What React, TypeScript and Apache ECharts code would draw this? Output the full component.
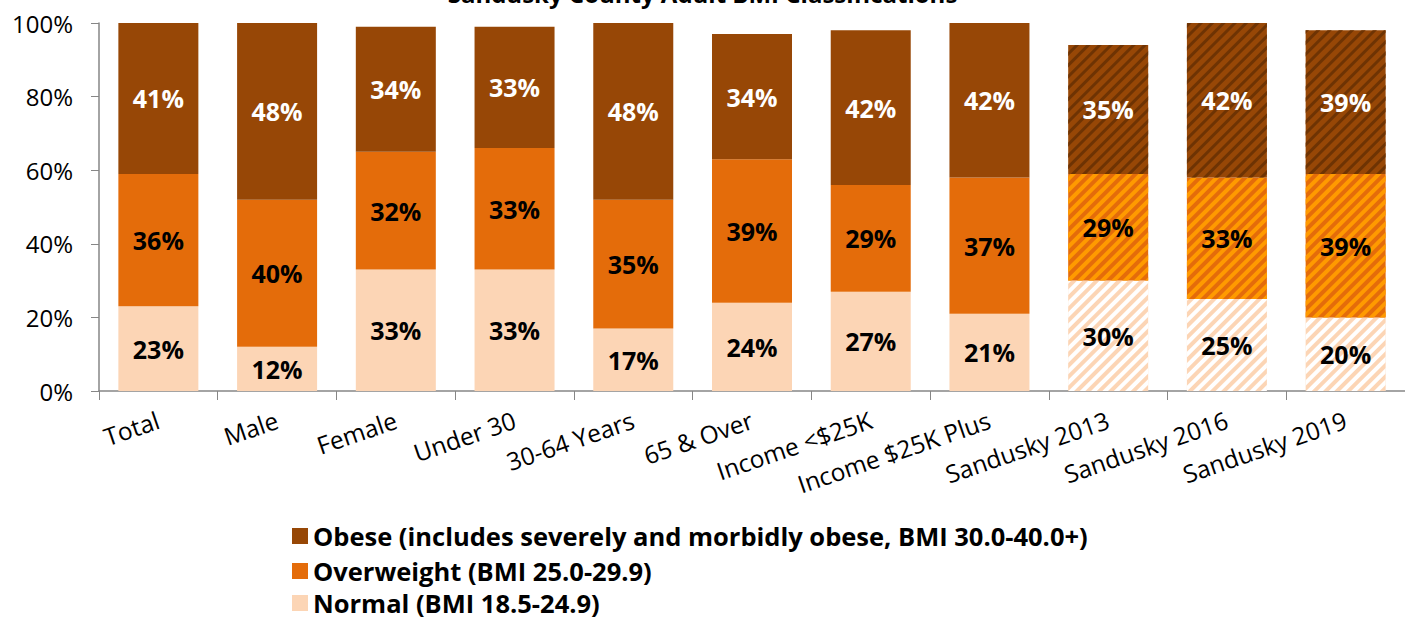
import React, { useEffect, useRef } from "react";
import * as echarts from "echarts";

const categories = [
  "Total", "Male", "Female", "Under 30", "30-64 Years", "65 & Over",
  "Income <$25K", "Income $25K Plus", "Sandusky 2013", "Sandusky 2016", "Sandusky 2019",
];
const normal = [23, 12, 33, 33, 17, 24, 27, 21, 30, 25, 20];
const overweight = [36, 40, 32, 33, 35, 39, 29, 37, 29, 33, 39];
const obese = [41, 48, 34, 33, 48, 34, 42, 42, 35, 42, 39];
const hatched = [false, false, false, false, false, false, false, false, true, true, true];
const yTicks = [0, 20, 40, 60, 80, 100];

const seriesNames = [
  "Normal (BMI 18.5-24.9)",
  "Overweight (BMI 25.0-29.9)",
  "Obese (includes severely and morbidly obese, BMI 30.0-40.0+)",
];
const colors = ["#FCD5B5", "#E46C0A", "#974706"];
const stripeColors = ["#FFFFFF", "#FF9A00", "#6E3303"];
const stripeDash = [[4, 4], [4, 4], [3, 5]];
const labelColors = ["#000000", "#000000", "#FFFFFF"];
const legendOrder = [2, 1, 0];
const legendTops = [518, 553, 585];

const FONT = "'Open Sans', 'Noto Sans', sans-serif";

export default function App() {
  const ref = useRef<HTMLDivElement>(null);
  useEffect(() => {
    document.body.style.margin = "0";
    const chart = echarts.init(ref.current!, null, { renderer: "svg" });
    const allValues = [normal, overweight, obese];
    const series = allValues.map((vals, si) => ({
      name: seriesNames[si],
      type: "bar",
      stack: "total",
      barWidth: 80,
      itemStyle: { color: colors[si] },
      label: {
        show: true,
        position: "inside",
        formatter: (p: any) => `${p.value}%`,
        color: labelColors[si],
        fontFamily: FONT,
        fontWeight: "bold",
        fontSize: 25,
      },
      data: vals.map((v, i) =>
        hatched[i]
          ? {
              value: v,
              itemStyle: {
                color: colors[si],
                decal: {
                  symbol: "rect",
                  symbolSize: 1,
                  color: stripeColors[si],
                  dashArrayX: [1, 0],
                  dashArrayY: stripeDash[si],
                  rotation: -Math.PI / 4,
                },
              },
            }
          : v
      ),
    }));
    chart.setOption({
      animation: false,
      aria: { enabled: false },
      grid: { left: 99, width: 1314, top: 23, bottom: 229, containLabel: false },
      graphic: [
        {
          type: "text",
          left: "center",
          top: -19,
          style: {
            text: "Sandusky County Adult BMI Classifications",
            font: `bold 24px ${FONT}`,
            fill: "#000",
          },
        },
      ],
      legend: legendOrder.map((si, k) => ({
        orient: "vertical",
        left: 287,
        top: legendTops[k],
        itemWidth: 16,
        itemHeight: 16,
        icon: "rect",
        data: [seriesNames[si]],
        textStyle: {
          fontFamily: FONT,
          fontWeight: "bold",
          fontSize: 25.5,
          lineHeight: 24,
          color: "#000",
        },
      })),
      xAxis: {
        type: "category",
        data: categories,
        axisLine: { lineStyle: { color: "#868686", width: 1.5 } },
        axisTick: { show: true, length: 9, lineStyle: { color: "#868686" } },
        axisLabel: {
          rotate: 19,
          interval: 0,
          margin: 28,
          color: "#000",
          fontFamily: FONT,
          fontSize: 24.5,
        },
      },
      yAxis: {
        type: "value",
        min: yTicks[0],
        max: yTicks[yTicks.length - 1],
        interval: 20,
        splitLine: { show: false },
        axisLine: { show: true, lineStyle: { color: "#868686", width: 1.5 } },
        axisTick: { show: true, length: 8, lineStyle: { color: "#868686" } },
        axisLabel: {
          formatter: "{value}%",
          margin: 26,
          color: "#000",
          fontFamily: FONT,
          fontSize: 24,
        },
      },
      series,
    });
    return () => chart.dispose();
  }, []);
  return <div ref={ref} style={{ width: 1405, height: 620 }} />;
}
